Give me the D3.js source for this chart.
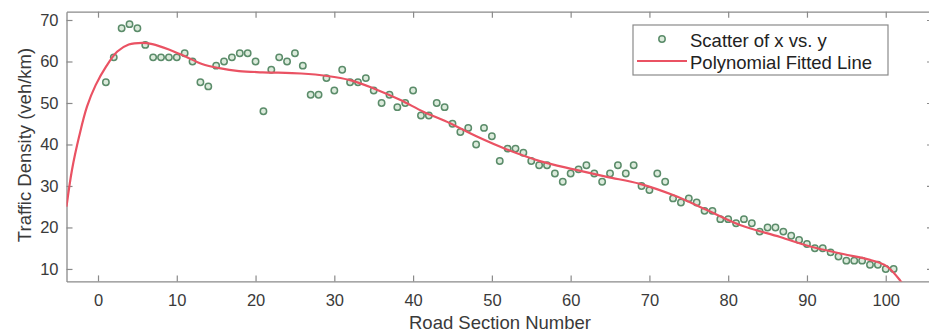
<!DOCTYPE html>
<html>
<head>
<meta charset="utf-8">
<script src="https://cdn.jsdelivr.net/npm/d3@7"></script>
<style>
  body { margin: 0; background: #fff; }
  svg { display: block; font-family: "Liberation Sans", Arial, sans-serif; }
</style>
</head>
<body>
<svg id="chart" width="929" height="333"></svg>
<script>
// road section numbers and measured density
const sectionNo = d3.range(1, 102);
const density = [55, 61, 68, 69, 68, 64, 61, 61, 61, 61,
  62, 60, 55, 54, 59, 60, 61, 62, 62, 60,
  48, 58, 61, 60, 62, 59, 52, 52, 56, 53,
  58, 55, 55, 56, 53, 50, 52, 49, 50, 53,
  47, 47, 50, 49, 45, 43, 44, 40, 44, 42,
  36, 39, 39, 38, 36, 35, 35, 33, 31, 33,
  34, 35, 33, 31, 33, 35, 33, 35, 30, 29,
  33, 31, 27, 26, 27, 26, 24, 24, 22, 22,
  21, 22, 21, 19, 20, 20, 19, 18, 17, 16,
  15, 15, 14, 13, 12, 12, 12, 11, 11, 10, 10];

// fitted line
const fitX = [-4.0, -3.3, -2.4, -1.4, -0.3, 1.0, 2.45, 3.9, 5.6, 6.9, 9.0, 11.1, 13.2, 15.4, 17.9,
  20.9, 25.8, 29.1, 32.0, 35.0, 38.4, 41.3, 44.7, 48.1, 51.9, 56.1, 60.4, 64.6, 68.8, 73.0,
  77.3, 81.5, 86.6, 90.4, 94.6, 98.0, 100.1, 101.8, 102.4];
const fitY = [25.0, 33.9, 41.9, 49.1, 54.3, 58.7, 62.4, 64.1, 64.5, 64.2, 62.9, 61.2, 59.4, 58.4, 57.7,
  57.4, 57.1, 56.5, 55.5, 53.5, 50.7, 47.9, 45.1, 41.9, 38.8, 36.0, 34.0, 32.2, 30.5, 27.8,
  24.2, 20.6, 17.7, 15.4, 13.6, 12.2, 10.7, 7.3, 5.5];

const xTicks = d3.range(0, 101, 10);
const yTicks = d3.range(10, 71, 10);

const svg = d3.select("#chart");
const plotL = 66.5, plotR = 933, plotT = 11.7, plotB = 281.4;
const axisColor = "#8a8a8a";
const textColor = "#3a3a3a";

const x = d3.scaleLinear().domain([-4, 106]).range([plotL, plotR]);
const y = d3.scaleLinear().domain([7, 72]).range([plotB, plotT]);

svg.append("clipPath").attr("id", "plotclip")
  .append("rect")
  .attr("x", plotL).attr("y", plotT)
  .attr("width", plotR - plotL).attr("height", plotB - plotT);

// axes: inward ticks on all four sides, like a boxed plot
const tickLen = 6;
const gx = svg.append("g").attr("transform", `translate(0,${plotB})`)
  .call(d3.axisBottom(x).tickValues(xTicks).tickSizeInner(-tickLen).tickSizeOuter(0).tickPadding(13));
const gxTop = svg.append("g").attr("transform", `translate(0,${plotT})`)
  .call(d3.axisTop(x).tickValues(xTicks).tickSizeInner(-tickLen).tickSizeOuter(0).tickFormat(""));
const gy = svg.append("g").attr("transform", `translate(${plotL},0)`)
  .call(d3.axisLeft(y).tickValues(yTicks).tickSizeInner(-tickLen).tickSizeOuter(0).tickPadding(8));
const gyRight = svg.append("g").attr("transform", `translate(${plotR},0)`)
  .call(d3.axisRight(y).tickValues(yTicks).tickSizeInner(-tickLen).tickSizeOuter(0).tickFormat(""));

[gx, gxTop, gy, gyRight].forEach(g => {
  g.select(".domain").attr("stroke", axisColor).attr("stroke-width", 1.3);
  g.selectAll(".tick line").attr("stroke", axisColor).attr("stroke-width", 1.2);
  g.selectAll(".tick text").attr("fill", textColor)
    .style("font-size", "16.5px").style("font-family", "'Liberation Sans', Arial, sans-serif");
});

// scatter
svg.append("g")
  .selectAll("circle")
  .data(sectionNo)
  .join("circle")
  .attr("cx", (d) => x(d))
  .attr("cy", (d, i) => y(density[i]))
  .attr("r", 3.2)
  .attr("fill", "#dcebdc")
  .attr("stroke", "#5b8c6a")
  .attr("stroke-width", 1.5);

// fitted line
const line = d3.line()
  .x((d, i) => x(fitX[i]))
  .y((d, i) => y(fitY[i]))
  .curve(d3.curveCatmullRom.alpha(0.5));

svg.append("path")
  .attr("clip-path", "url(#plotclip)")
  .attr("d", line(fitX))
  .attr("fill", "none")
  .attr("stroke", "#ea5263")
  .attr("stroke-width", 2.2);

// axis labels
svg.append("text")
  .attr("x", 500).attr("y", 329)
  .attr("text-anchor", "middle")
  .attr("fill", textColor)
  .style("font-size", "18.5px")
  .text("Road Section Number");

svg.append("text")
  .attr("transform", "translate(31,145) rotate(-90)")
  .attr("text-anchor", "middle")
  .attr("fill", textColor)
  .style("font-size", "18.5px")
  .text("Traffic Density (veh/km)");

// legend
const lg = svg.append("g");
lg.append("rect")
  .attr("x", 633).attr("y", 25)
  .attr("width", 255).attr("height", 50)
  .attr("fill", "#fff")
  .attr("stroke", axisColor)
  .attr("stroke-width", 1.2);
lg.append("circle")
  .attr("cx", 662).attr("cy", 39).attr("r", 3.2)
  .attr("fill", "#dcebdc").attr("stroke", "#5b8c6a").attr("stroke-width", 1.5);
lg.append("line")
  .attr("x1", 637).attr("x2", 687).attr("y1", 61).attr("y2", 61)
  .attr("stroke", "#ea5263").attr("stroke-width", 2.2);
lg.append("text").attr("x", 690).attr("y", 46.5)
  .attr("fill", "#222").style("font-size", "18.5px")
  .text("Scatter of x vs. y");
lg.append("text").attr("x", 690).attr("y", 69)
  .attr("fill", "#222").style("font-size", "18.5px")
  .text("Polynomial Fitted Line");
</script>
</body>
</html>
